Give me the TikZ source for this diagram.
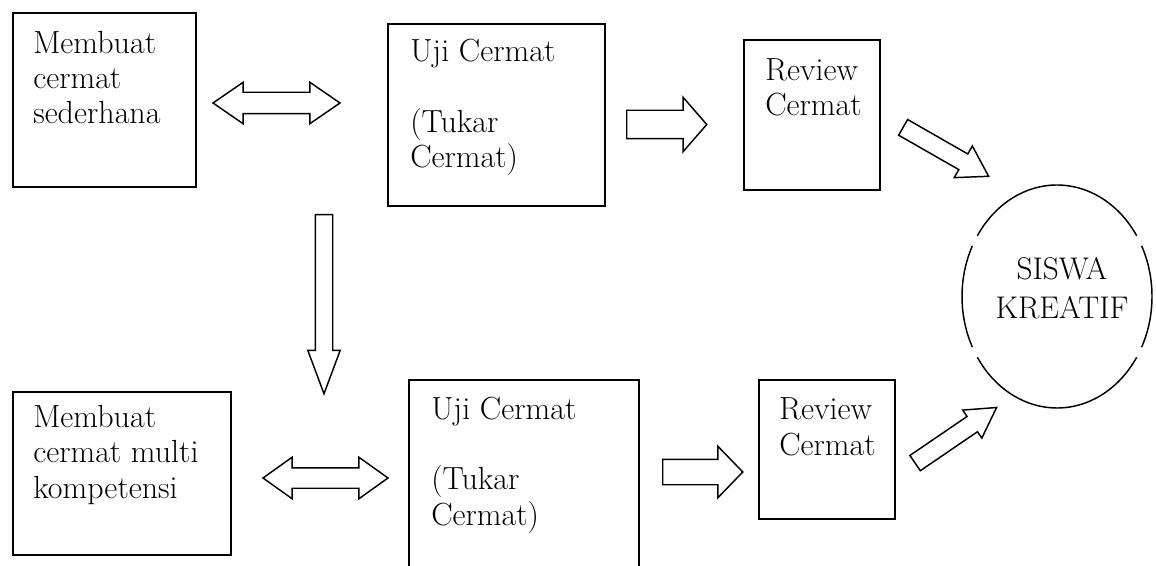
\documentclass[tikz,border=0pt]{standalone}
\usetikzlibrary{shapes.arrows,positioning}
\newcommand\px{0.75pt}
\tikzset{
  kotak/.style={draw,line width=1.5pt,rectangle,anchor=north west,inner sep=0pt},
  isi/.style={anchor=base west,align=left,inner sep=0pt,font=\fontsize{24pt}{26.5pt}\selectfont},
  panah/.style={draw,line width=1.1pt,single arrow,inner sep=0pt,anchor=tail},
  panahdua/.style={draw,line width=1.1pt,double arrow,inner sep=0pt},
  garis/.style={line width=1.1pt}
}
\begin{document}
\begin{tikzpicture}[x=\px,y=-\px]
\path[use as bounding box] (0,0) rectangle (1156,566);
\clip (0,0) rectangle (1156,566);
% kotak atas (teks: garis dasar baris terakhir)
\node[kotak,minimum width=183*\px,minimum height=174*\px] (sederhana) at (12,12) {};
\node[isi] (tsederhana) at ([shift={(21,112)}]sederhana.north west) {Membuat\\cermat\\sederhana};
\node[kotak,minimum width=217*\px,minimum height=182*\px] (uji1) at (387,23) {};
\node[isi] (tuji1) at ([shift={(23,145)}]uji1.north west) {Uji Cermat\\ \mbox{}\\(Tukar\\Cermat)};
\node[kotak,minimum width=136*\px,minimum height=150*\px] (review1) at (743,39) {};
\node[isi] (treview1) at ([shift={(22,77)}]review1.north west) {Review\\Cermat};
% kotak bawah
\node[kotak,minimum width=218*\px,minimum height=163*\px] (multi) at (12,391) {};
\node[isi] (tmulti) at ([shift={(21,107)}]multi.north west) {Membuat\\cermat multi\\kompetensi};
\node[kotak,minimum width=230*\px,minimum height=221*\px] (uji2) at (408,379) {};
\node[isi] (tuji2) at ([shift={(23,146)}]uji2.north west) {Uji Cermat\\ \mbox{}\\(Tukar\\Cermat)};
\node[kotak,minimum width=136*\px,minimum height=139*\px] (review2) at (758,379) {};
\node[isi] (treview2) at ([shift={(21,76)}]review2.north west) {Review\\Cermat};
% siswa kreatif
\coordinate (pusat) at (1057,296.5);
\node[isi,anchor=center,align=center,font=\fontsize{23.5pt}{29pt}\selectfont] (kreatif) at (1062,288) {SISWA\\KREATIF};
\begin{scope}[shift={(pusat)}]
\draw[garis] (33:95 and 111.5) arc[start angle=33,end angle=147,x radius=95,y radius=111.5];
\draw[garis] (153:95 and 111.5) arc[start angle=153,end angle=207,x radius=95,y radius=111.5];
\draw[garis] (213:95 and 111.5) arc[start angle=213,end angle=327,x radius=95,y radius=111.5];
\draw[garis] (333:95 and 111.5) arc[start angle=333,end angle=387,x radius=95,y radius=111.5];
\end{scope}
% panah
\node[panahdua,minimum height=127*\px,inner ysep=10*\px,double arrow head extend=10*\px,double arrow tip angle=69] (tukar1) at (276.5,103) {};
\node[panahdua,minimum height=125*\px,inner ysep=9.5*\px,double arrow head extend=10.5*\px,double arrow tip angle=71] (tukar2) at (325.5,478) {};
\node[panah,minimum height=80*\px,inner ysep=13.5*\px,single arrow head extend=13*\px,single arrow tip angle=98] (lanjut1) at (626,124.5) {};
\node[panah,minimum height=80*\px,inner ysep=12*\px,single arrow head extend=13*\px,single arrow tip angle=92] (lanjut2) at (662,472) {};
\node[panah,minimum height=179*\px,inner ysep=8*\px,single arrow head extend=7.5*\px,single arrow tip angle=41,rotate=-90] (turun) at (324,214) {};
\node[panah,minimum height=98.5*\px,inner ysep=8.3*\px,single arrow head extend=9.2*\px,single arrow tip angle=64,rotate=-29.8] (hasil1) at (902.5,127) {};
\node[panah,minimum height=98.6*\px,inner ysep=8.5*\px,single arrow head extend=7.75*\px,single arrow tip angle=60,rotate=34.3] (hasil2) at (914.5,463.5) {};
\end{tikzpicture}
\end{document}
